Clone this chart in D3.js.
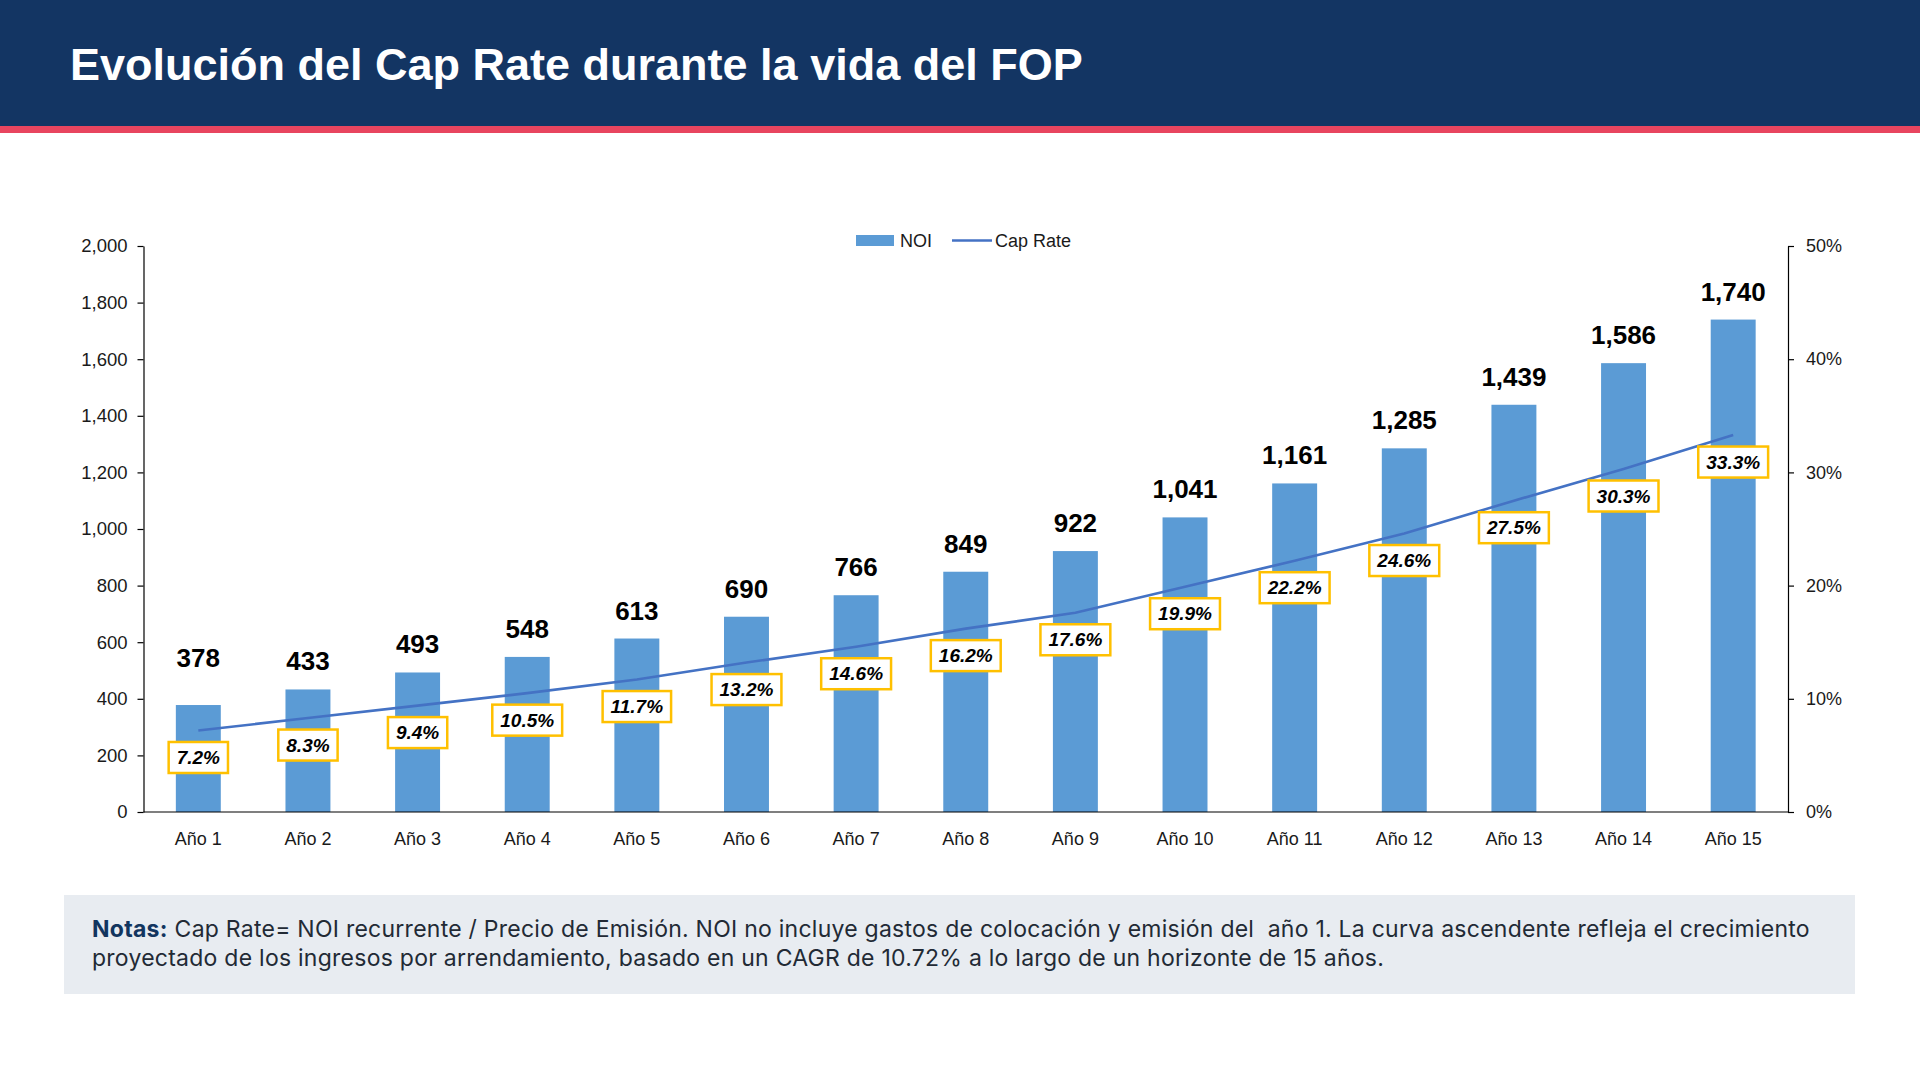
<!DOCTYPE html>
<html>
<head>
<meta charset="utf-8">
<script src="https://cdn.jsdelivr.net/npm/d3@7"></script>
<style>
  body { margin: 0; background: #fff; }
  svg { display: block; font-family: "Liberation Sans", Arial, sans-serif; }
  .note { white-space: pre; }
</style>
</head>
<body>
<svg id="chart" width="1920" height="1080"></svg>
<script>
// data
const years = ["Año 1", "Año 2", "Año 3", "Año 4", "Año 5", "Año 6", "Año 7", "Año 8",
  "Año 9", "Año 10", "Año 11", "Año 12", "Año 13", "Año 14", "Año 15"];
const noi = [378, 433, 493, 548, 613, 690, 766, 849, 922, 1041, 1161, 1285, 1439, 1586, 1740];
const capRate = [0.072, 0.083, 0.094, 0.105, 0.117, 0.132, 0.146, 0.162, 0.176, 0.199, 0.222, 0.246, 0.275, 0.303, 0.333];
const leftTicks = [0, 200, 400, 600, 800, 1000, 1200, 1400, 1600, 1800, 2000];
const rightTicks = [0, 0.1, 0.2, 0.3, 0.4, 0.5];

const title = "Evolución del Cap Rate durante la vida del FOP";
const noteLabel = "Notas:";
const noteLines = [
  "Cap Rate= NOI recurrente / Precio de Emisión. NOI no incluye gastos de colocación y emisión del  año 1. La curva ascendente refleja el crecimiento",
  "proyectado de los ingresos por arrendamiento, basado en un CAGR de 10.72% a lo largo de un horizonte de 15 años."
];

const svg = d3.select("#chart");

// header band
svg.append("rect").attr("x", 0).attr("y", 0).attr("width", 1920).attr("height", 126).attr("fill", "#133563");
svg.append("rect").attr("x", 0).attr("y", 126).attr("width", 1920).attr("height", 7).attr("fill", "#E8455F");
svg.append("text")
  .attr("x", 70)
  .attr("y", 80)
  .attr("fill", "#fff")
  .attr("font-size", "45px")
  .attr("font-weight", "bold")
  .text(title);

const plot = { left: 143.5, right: 1788, top: 246, bottom: 812 };

const x = d3.scaleBand()
  .domain(years)
  .range([plot.left, plot.right])
  .paddingInner(0.59)
  .paddingOuter(0.295);

const y = d3.scaleLinear().domain([0, 2000]).range([plot.bottom, plot.top]);
const y2 = d3.scaleLinear().domain([0, 0.5]).range([plot.bottom, plot.top]);

// bars
svg.append("g").selectAll("rect")
  .data(noi)
  .enter().append("rect")
  .attr("x", (d, i) => x(years[i]))
  .attr("y", d => y(d))
  .attr("width", x.bandwidth())
  .attr("height", d => y(0) - y(d))
  .attr("fill", "#5B9BD5");

// axes
const leftAxis = svg.append("g")
  .attr("transform", `translate(${plot.left},0)`)
  .call(d3.axisLeft(y).tickValues(leftTicks).tickFormat(d3.format(",")).tickSizeOuter(0).tickPadding(10));
const rightAxis = svg.append("g")
  .attr("transform", `translate(${plot.right},0)`)
  .call(d3.axisRight(y2).tickValues(rightTicks).tickFormat(d3.format(".0%")).tickSizeOuter(0).tickPadding(12));
const bottomAxis = svg.append("g")
  .attr("transform", `translate(0,${plot.bottom})`)
  .call(d3.axisBottom(x).tickSize(0).tickPadding(20));

[leftAxis, rightAxis, bottomAxis].forEach(a => {
  a.select(".domain").attr("stroke", "#000").attr("stroke-width", 1.2);
  a.selectAll(".tick line").attr("stroke", "#000").attr("stroke-width", 1.2);
  a.selectAll(".tick text").attr("fill", "#1a1a1a").attr("font-size", "18px")
    .attr("font-family", "'Liberation Sans', Arial, sans-serif");
});
leftAxis.selectAll(".tick text").attr("font-size", "18.5px");
bottomAxis.select(".domain").attr("d", `M${plot.left},0H${plot.right}`);

// cap rate line
const cx = i => x(years[i]) + x.bandwidth() / 2;
const line = d3.line().x((d, i) => cx(i)).y(d => y2(d));
svg.append("path")
  .datum(capRate)
  .attr("d", line)
  .attr("fill", "none")
  .attr("stroke", "#4472C4")
  .attr("stroke-width", 2.6);

// NOI labels
svg.append("g").selectAll("text")
  .data(noi)
  .enter().append("text")
  .attr("x", (d, i) => cx(i))
  .attr("y", (d, i) => y(d) - (i === 0 ? 38 : 19))
  .attr("text-anchor", "middle")
  .attr("font-size", "26px")
  .attr("font-weight", "bold")
  .attr("fill", "#000")
  .text(d3.format(","));

// cap rate labels
const pct = svg.append("g").selectAll("g")
  .data(capRate)
  .enter().append("g")
  .attr("transform", (d, i) => `translate(${cx(i)},${y2(d) + 27})`);

pct.append("text")
  .attr("text-anchor", "middle")
  .attr("dy", "0.35em")
  .attr("font-size", "19px")
  .attr("font-weight", "bold")
  .attr("font-style", "italic")
  .attr("fill", "#000")
  .text(d => d3.format(".1%")(d));

pct.each(function () {
  const g = d3.select(this);
  const w = g.select("text").node().getComputedTextLength() + 16;
  g.insert("rect", "text")
    .attr("x", -w / 2)
    .attr("y", -15.5)
    .attr("width", w)
    .attr("height", 31)
    .attr("fill", "#fff")
    .attr("stroke", "#FFC000")
    .attr("stroke-width", 2.5);
});

// legend
const legend = svg.append("g").attr("font-size", "18px").attr("fill", "#1a1a1a");
legend.append("rect").attr("x", 856).attr("y", 235).attr("width", 38).attr("height", 11).attr("fill", "#5B9BD5");
legend.append("text").attr("x", 900).attr("y", 247).text("NOI");
legend.append("line").attr("x1", 952).attr("x2", 992).attr("y1", 240.5).attr("y2", 240.5)
  .attr("stroke", "#4472C4").attr("stroke-width", 2.6);
legend.append("text").attr("x", 995).attr("y", 247).text("Cap Rate");

// notes box
svg.append("rect").attr("x", 64).attr("y", 895).attr("width", 1791).attr("height", 99).attr("fill", "#E8ECF1");
const notes = svg.append("g")
  .attr("font-size", "23px")
  .attr("letter-spacing", "0.25px")
  .attr("font-family", "Inter, 'Open Sans', sans-serif")
  .attr("fill", "#222a35");
const nLabel = notes.append("text").attr("class", "note").attr("x", 92).attr("y", 937)
  .attr("font-weight", "bold").attr("fill", "#12355F").text(noteLabel);
notes.append("text").attr("class", "note")
  .attr("x", 92 + nLabel.node().getComputedTextLength() + 7)
  .attr("y", 937)
  .text(noteLines[0]);
notes.append("text").attr("class", "note").attr("x", 92).attr("y", 966).text(noteLines[1]);
</script>
</body>
</html>
